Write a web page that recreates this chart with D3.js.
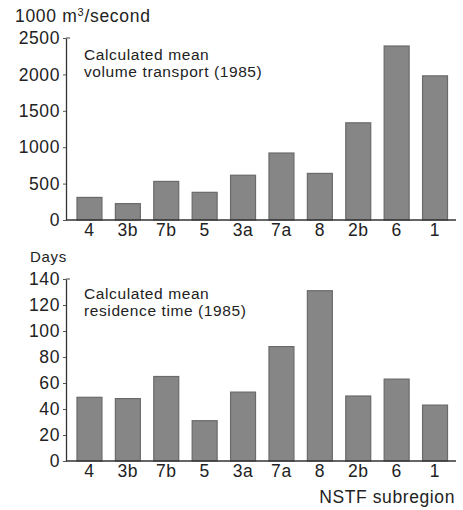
<!DOCTYPE html>
<html><head><meta charset="utf-8">
<script src="https://cdn.jsdelivr.net/npm/d3@7"></script>
<style>
body{margin:0;background:#fff;}
text{font-family:"Liberation Sans",Arial,sans-serif;fill:#222;}
</style></head>
<body><svg id="c" width="463" height="510"></svg>
<script>
const categories = ["4","3b","7b","5","3a","7a","8","2b","6","1"];
const transport = [310, 225, 530, 380, 615, 920, 640, 1335, 2390, 1980];
const residence = [49, 48, 65, 31, 53, 88, 131, 50, 63, 43];
const transportTicks = [0, 500, 1000, 1500, 2000, 2500];
const residenceTicks = [0, 20, 40, 60, 80, 100, 120, 140];

const svg = d3.select("#c");
const x = d3.scaleBand().domain(categories).range([69.3, 455.2]).paddingInner(0.35).paddingOuter(0.2);

function panel(opts){
  const y = d3.scaleLinear().domain([0, opts.max]).range([opts.y0, opts.y1]);
  const g = svg.append("g");
  g.selectAll("rect").data(opts.values).enter().append("rect")
    .attr("x",(d,i)=>x(categories[i]))
    .attr("width",x.bandwidth())
    .attr("y",d=>y(d))
    .attr("height",d=>y(0)-y(d))
    .attr("fill","#868686").attr("stroke","#6a6a6a").attr("stroke-width",1.2);
  const ya = g.append("g").attr("transform","translate(66,0)")
    .call(d3.axisLeft(y).tickValues(opts.ticks).tickFormat(d3.format("d")).tickSize(3).tickSizeOuter(0).tickPadding(3));
  ya.select(".domain").attr("stroke","#333").attr("stroke-width",1.3);
  ya.selectAll(".tick line").attr("stroke","#555");
  ya.selectAll("text").style("font-size","17.5px").style("letter-spacing","0.6px").attr("fill","#222");
  g.append("line").attr("x1",66).attr("x2",70).attr("y1",y(opts.max)).attr("y2",y(opts.max)).attr("stroke","#444");
  const xa = g.append("g").attr("transform",`translate(0,${y(0)})`)
    .call(d3.axisBottom(x).tickSize(0).tickPadding(4));
  xa.select(".domain").attr("d",`M66,0H456`).attr("stroke","#333").attr("stroke-width",1.3);
  xa.selectAll("text").style("font-size","17.5px").style("letter-spacing","0.6px").attr("fill","#222");
  const t = g.append("text").attr("x",opts.tx).attr("y",opts.ty).style("font-size",opts.tfs).style("letter-spacing","0.7px");
  opts.title(t);
  opts.note.forEach((s,i)=>{
    g.append("text").attr("x",84).attr("y",opts.ny + i*16.5).text(s)
      .style("font-size","15.5px").style("letter-spacing","0.6px");
  });
}

panel({max:2500, values:transport, ticks:transportTicks, y0:220, y1:38,
  tx:15, ty:22, tfs:"17.5px",
  title:t=>{t.append("tspan").text("1000 m");t.append("tspan").text("3").attr("dy",-6).style("font-size","11px");t.append("tspan").text("/second").attr("dy",6);},
  note:["Calculated mean","volume transport (1985)"], ny:60});

panel({max:140, values:residence, ticks:residenceTicks, y0:461, y1:279,
  tx:30, ty:262, tfs:"15px",
  title:t=>t.text("Days"),
  note:["Calculated mean","residence time (1985)"], ny:299});

svg.append("text").attr("x",455).attr("y",503).attr("text-anchor","end")
  .text("NSTF subregion").style("font-size","17.5px").style("letter-spacing","0.6px");
</script></body></html>
